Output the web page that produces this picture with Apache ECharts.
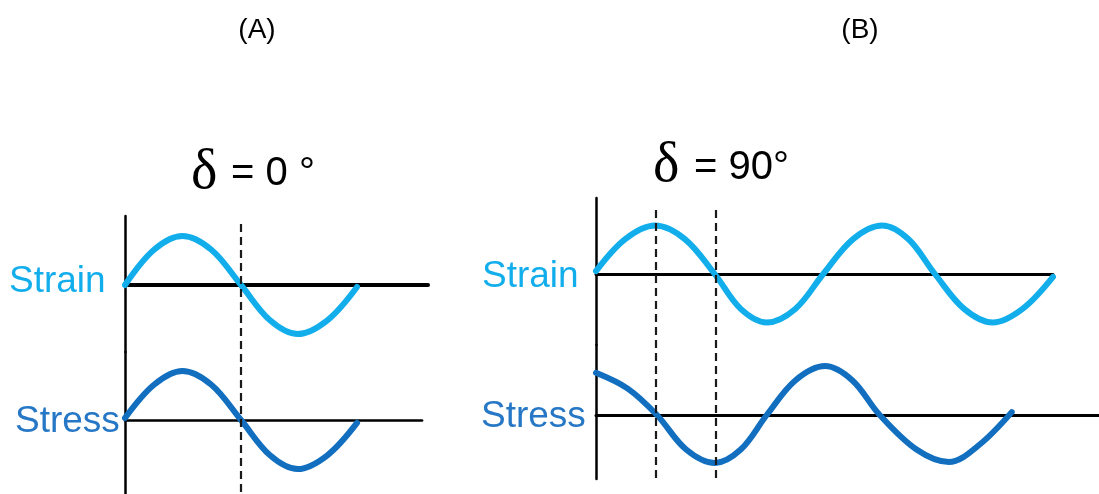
<!DOCTYPE html>
<html>
<head>
<meta charset="utf-8">
<script src="https://cdn.jsdelivr.net/npm/echarts@6/dist/echarts.min.js"></script>
<style>
  html, body { margin: 0; padding: 0; background: #fff; }
  #chart { width: 1099px; height: 494px; }
</style>
</head>
<body>
<div id="chart"></div>
<script>
// labels
const panelLabels = ['(A)', '(B)']
const titles = ['δ = 0 °', 'δ = 90°']
const waveLabels = ['Strain', 'Stress']

// panel A, phase in degrees, amplitude in units of the wave height
const phaseA = [0, 45, 89, 134, 180, 225, 268, 314, 360]
const strainA = [0, 0.72, 1, 0.72, 0, -0.72, -1, -0.72, -0.04]
const stressA = [0.04, 0.72, 1, 0.72, 0, -0.72, -1, -0.72, -0.06]
const dashA = [180]

// panel B
const phaseStrainB = [0, 46, 93, 140, 187, 228, 269, 314, 358, 405, 451, 492, 534, 580, 625, 672, 720]
const strainB = [0.06, 0.72, 1, 0.72, 0, -0.72, -1, -0.72, 0, 0.72, 1, 0.72, 0, -0.72, -1, -0.72, -0.06]
const phaseStressB = [0, 50, 96, 142, 187, 228, 269, 314, 361, 404, 447, 505, 556, 604, 655]
const stressB = [0.88, 0.55, 0, -0.72, -1, -0.72, 0, 0.72, 1.02, 0.72, 0, -0.72, -0.98, -0.62, 0.06]
const dashB = [94, 189]

const STRAIN_COLOR = '#12aeec'
const STRESS_COLOR = '#126ebf'
const STRESS_TEXT = '#2677c5'

// pixel layout of the two panels
const layoutA = {
  axisX: 125, degPx: 232 / 360,
  strain: { top: 216, bottom: 352, right: 428, zero: 285, amp: 49 },
  stress: { top: 352, bottom: 494, right: 422, zero: 420, amp: 49 },
  guide: { top: 220, bottom: 492, right: 428 }
}
const layoutB = {
  axisX: 596, degPx: 457 / 720,
  strain: { top: 198, bottom: 345, right: 1053, zero: 274, amp: 48.5 },
  stress: { top: 345, bottom: 479, right: 1099, zero: 415, amp: 48 },
  guide: { top: 209, bottom: 478, right: 1053 }
}

const grid = []
const xAxis = []
const yAxis = []
const series = []

function addFrame (lay, f, base, vert) {
  const i = grid.length
  grid.push({
    left: lay.axisX, top: f.top,
    width: f.right - lay.axisX, height: f.bottom - f.top,
    containLabel: false
  })
  xAxis.push({
    type: 'value', gridIndex: i, min: 0, max: (f.right - lay.axisX) / lay.degPx,
    axisLine: { show: base > 0, onZero: true, lineStyle: { color: '#000', width: base || 1 } },
    axisTick: { show: false }, axisLabel: { show: false }, splitLine: { show: false }
  })
  const hasZero = f.zero != null
  yAxis.push({
    type: 'value', gridIndex: i,
    min: hasZero ? -(f.bottom - f.zero) / f.amp : -1,
    max: hasZero ? (f.zero - f.top) / f.amp : 1,
    axisLine: { show: vert, onZero: false, lineStyle: { color: '#000', width: 2.5 } },
    axisTick: { show: false }, axisLabel: { show: false }, splitLine: { show: false }
  })
  return i
}

function wave (i, xs, ys, color) {
  series.push({
    type: 'line', xAxisIndex: i, yAxisIndex: i,
    data: xs.map((x, k) => [x, ys[k]]),
    showSymbol: false, symbol: 'none', smooth: 0.35, silent: true,
    lineStyle: { color: color, width: 6, cap: 'round', join: 'round' }
  })
}

function guides (i, xs) {
  series.push({
    type: 'line', xAxisIndex: i, yAxisIndex: i, data: [], silent: true,
    markLine: {
      silent: true, symbol: 'none', label: { show: false },
      lineStyle: { color: '#1a1a1a', width: 2.2, type: [8, 5] },
      data: xs.map(v => ({ xAxis: v }))
    }
  })
}

// panel A
let g = addFrame(layoutA, layoutA.strain, 4, true)
wave(g, phaseA, strainA, STRAIN_COLOR)
g = addFrame(layoutA, layoutA.stress, 2.7, true)
wave(g, phaseA, stressA, STRESS_COLOR)
g = addFrame(layoutA, layoutA.guide, 0, false)
guides(g, dashA)

// panel B
g = addFrame(layoutB, layoutB.strain, 3, true)
wave(g, phaseStrainB, strainB, STRAIN_COLOR)
g = addFrame(layoutB, layoutB.stress, 3, true)
wave(g, phaseStressB, stressB, STRESS_COLOR)
g = addFrame(layoutB, layoutB.guide, 0, false)
guides(g, dashB)

function text (str, x, y, font, color, align) {
  return {
    type: 'text', x: x, y: y, silent: true,
    style: { text: str, font: font, fill: color, align: align || 'left', verticalAlign: 'middle' }
  }
}

const SANS = '"Liberation Sans", Arial, sans-serif'
const PANEL_FONT = '28px "Liberation Sans", sans-serif'
const graphic = [
  text(panelLabels[0], 257, 30, PANEL_FONT, '#000', 'center'),
  text(panelLabels[1], 860, 30, PANEL_FONT, '#000', 'center'),
  text(titles[0].slice(0, 1), 191, 173, '56px "Liberation Serif", serif', '#000'),
  text(titles[0].slice(1), 220, 174, '40px ' + SANS, '#000'),
  text(titles[1].slice(0, 1), 653, 166, '56px "Liberation Serif", serif', '#000'),
  text(titles[1].slice(1), 683, 168, '40px ' + SANS, '#000'),
  text(waveLabels[0], 9, 282, '37px ' + SANS, STRAIN_COLOR),
  text(waveLabels[1], 15, 422, '37px ' + SANS, STRESS_TEXT),
  text(waveLabels[0], 482, 277, '37px ' + SANS, STRAIN_COLOR),
  text(waveLabels[1], 481, 417, '37px ' + SANS, STRESS_TEXT)
]

const chart = echarts.init(document.getElementById('chart'))
chart.setOption({
  animation: false,
  grid: grid,
  xAxis: xAxis,
  yAxis: yAxis,
  series: series,
  graphic: graphic
})
</script>
</body>
</html>
